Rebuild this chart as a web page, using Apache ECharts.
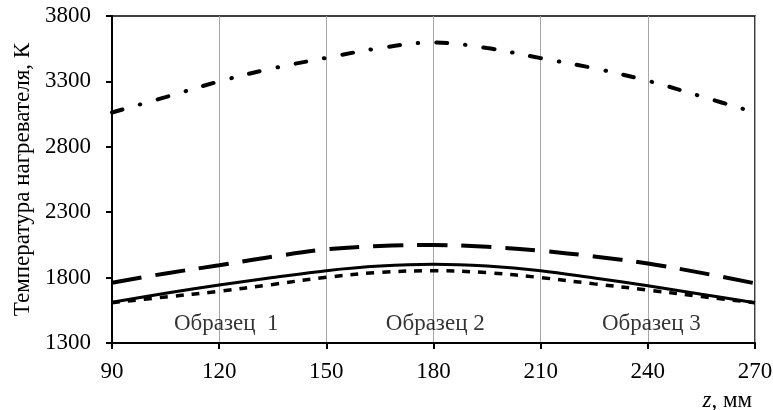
<!DOCTYPE html>
<html>
<head>
<meta charset="utf-8">
<script src="https://cdn.jsdelivr.net/npm/echarts@6/dist/echarts.min.js"></script>
<style>
  html, body { margin: 0; padding: 0; background: #fff; }
  #chart { width: 773px; height: 410px; }
</style>
</head>
<body>
<div id="chart"></div>
<script>
// Position along the heater, mm
const zValues = [90, 105, 120, 135, 150, 165, 180, 195, 210, 225, 240, 255, 270];

// Heater temperature profiles, K
const tempDashDot = [3062, 3180, 3300, 3400, 3480, 3555, 3598, 3555, 3478, 3400, 3305, 3185, 3062];
const tempLongDash = [1761, 1832, 1894, 1960, 2016, 2042, 2049, 2035, 2005, 1962, 1908, 1836, 1756];
const tempSolid = [1612, 1680, 1743, 1800, 1853, 1888, 1902, 1888, 1853, 1797, 1738, 1673, 1608];
const tempShortDash = [1608, 1652, 1695, 1748, 1802, 1840, 1853, 1838, 1800, 1752, 1705, 1655, 1608];

// Sample labels and their anchor positions (z, K)
const sampleNames = ['Образец  1', 'Образец 2', 'Образец 3'];
const sampleZ = [122, 180.5, 241];
const sampleT = [1445, 1445, 1445];

// Axis settings
const xMin = 90, xMax = 270, xStep = 30;
const yMin = 1300, yMax = 3800, yStep = 500;

const FONT = '"Liberation Serif", "Times New Roman", serif';
const FS = 23;

const pair = (xs, ys) => xs.map((x, i) => [x, ys[i]]);

function lineSeries(name, values, width, dash, cap) {
  return {
    name: name,
    type: 'line',
    data: pair(zValues, values),
    smooth: 0.35,
    showSymbol: false,
    symbol: 'none',
    silent: true,
    lineStyle: { color: '#000', width: width, type: dash, cap: cap || 'butt' }
  };
}

const chart = echarts.init(document.getElementById('chart'), null, { renderer: 'canvas' });

chart.setOption({
  animation: false,
  backgroundColor: '#fff',
  grid: {
    left: 112, right: 18, top: 16, bottom: 67,
    outerBoundsMode: 'none',
    containLabel: false,
    show: true, borderColor: '#000', borderWidth: 1.5, backgroundColor: 'transparent'
  },
  xAxis: {
    type: 'value',
    min: xMin, max: xMax, interval: xStep,
    axisLine: { show: true, onZero: false, lineStyle: { color: '#000', width: 2 } },
    axisTick: { show: true, inside: false, length: 6, lineStyle: { color: '#000', width: 2 } },
    axisLabel: { color: '#000', fontFamily: FONT, fontSize: FS, margin: 17, formatter: v => String(v) },
    splitLine: { show: true, lineStyle: { color: '#a6a6a6', width: 1 } }
  },
  yAxis: {
    type: 'value',
    min: yMin, max: yMax, interval: yStep,
    name: 'Температура нагревателя, К',
    nameLocation: 'middle',
    nameGap: 78,
    nameRotate: 90,
    nameTextStyle: { color: '#000', fontFamily: FONT, fontSize: FS },
    axisLine: { show: true, lineStyle: { color: '#000', width: 2 } },
    axisTick: { show: true, inside: false, length: 6, lineStyle: { color: '#000', width: 2 } },
    axisLabel: { color: '#000', fontFamily: FONT, fontSize: FS, margin: 21, formatter: v => String(v) },
    splitLine: { show: false }
  },
  series: [
    lineSeries('dashdot', tempDashDot, 4, [11, 18, 0.5, 18], 'round'),
    lineSeries('longdash', tempLongDash, 4, [30, 14]),
    lineSeries('solid', tempSolid, 3, 'solid'),
    lineSeries('shortdash', tempShortDash, 3.5, [8, 8]),
    {
      type: 'scatter',
      silent: true,
      symbolSize: 0,
      data: sampleNames.map((n, i) => ({ name: n, value: [sampleZ[i], sampleT[i]] })),
      label: {
        show: true,
        position: 'inside',
        formatter: p => p.name,
        color: '#000',
        fontFamily: FONT,
        fontSize: FS
      }
    }
  ],
  graphic: [{
    type: 'text',
    right: 21,
    top: 389,
    style: {
      text: '{i|z}, мм',
      fill: '#000',
      font: FS + 'px ' + FONT,
      rich: {
        i: { fontStyle: 'italic', fontFamily: FONT, fontSize: FS, fill: '#000' }
      }
    }
  }]
});
</script>
</body>
</html>
